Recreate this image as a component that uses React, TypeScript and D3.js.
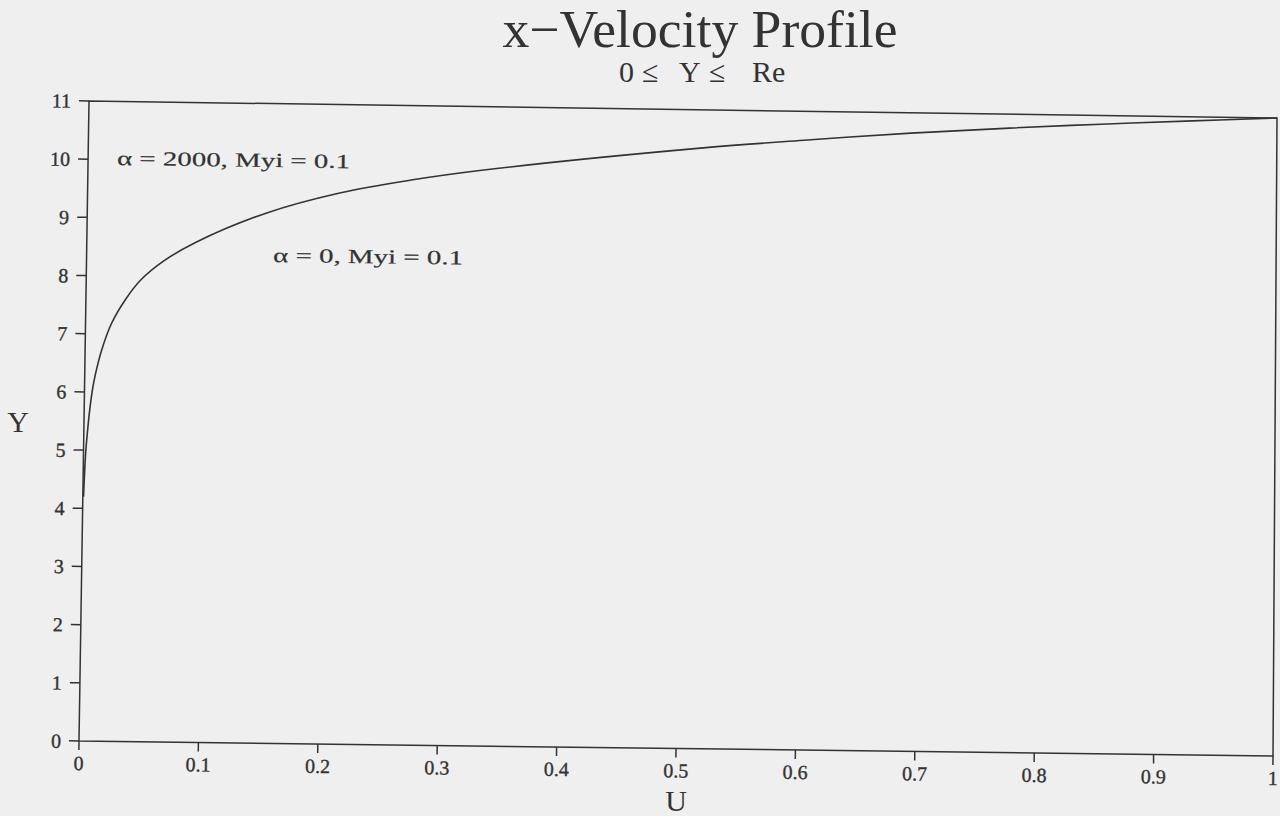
import React from 'react';
import * as d3 from 'd3';

// x-velocity profile: U as a function of Y across the layer
const profileY = [4.2, 4.95, 5.22, 5.64, 6.03, 6.3, 6.73, 7.19, 7.59, 7.94, 8.27, 8.59, 9.12, 9.48, 9.72, 9.91, 10.34, 10.5, 10.65, 10.76, 10.85, 10.93, 11.0];
const profileU = [0.0006, 0.0018, 0.0027, 0.0044, 0.0066, 0.0089, 0.014, 0.022, 0.033, 0.046, 0.065, 0.091, 0.151, 0.212, 0.272, 0.333, 0.515, 0.602, 0.692, 0.775, 0.852, 0.929, 1.0];

const uTickValues = [0, 0.1, 0.2, 0.3, 0.4, 0.5, 0.6, 0.7, 0.8, 0.9, 1];
const uTickLabels = ['0', '0.1', '0.2', '0.3', '0.4', '0.5', '0.6', '0.7', '0.8', '0.9', '1'];
const yTickValues = [0, 1, 2, 3, 4, 5, 6, 7, 8, 9, 10, 11];
const yTickLabels = ['0', '1', '2', '3', '4', '5', '6', '7', '8', '9', '10', '11'];

const annotations = [
  { text: 'α = 2000,  Myi = 0.1', x: 117, y: 165, len: 233 },
  { text: 'α = 0,  Myi = 0.1', x: 273, y: 262, len: 190 },
];

// Subtitle pieces with their horizontal offsets from the title centre
const subtitleParts = ['0', '≤', 'Y', '≤', 'Re'];
const subtitleOffsets = [-81, -58, -21, 9, 52];

const W = 1280;
const H = 816;
const BG = '#efefef';
const INK = '#333';
const FONT = '"Liberation Serif", "Times New Roman", serif';

// Page corners of the plot frame (the sheet sits slightly askew)
const BL: [number, number] = [79, 741];
const BR: [number, number] = [1273, 756];
const TL: [number, number] = [89, 101];
const TR: [number, number] = [1277, 118];

function warp(s: number, t: number): [number, number] {
  const a = (1 - s) * (1 - t);
  const b = s * (1 - t);
  const c = (1 - s) * t;
  const d = s * t;
  return [
    a * BL[0] + b * BR[0] + c * TL[0] + d * TR[0],
    a * BL[1] + b * BR[1] + c * TL[1] + d * TR[1],
  ];
}

function norm(v: [number, number]): [number, number] {
  const l = Math.hypot(v[0], v[1]);
  return [v[0] / l, v[1] / l];
}

// Unit direction along increasing U at height fraction t
function dirS(t: number): [number, number] {
  return norm([
    (1 - t) * (BR[0] - BL[0]) + t * (TR[0] - TL[0]),
    (1 - t) * (BR[1] - BL[1]) + t * (TR[1] - TL[1]),
  ]);
}
// Unit direction along increasing Y at width fraction s
function dirT(s: number): [number, number] {
  return norm([
    (1 - s) * (TL[0] - BL[0]) + s * (TR[0] - BR[0]),
    (1 - s) * (TL[1] - BL[1]) + s * (TR[1] - BR[1]),
  ]);
}

const xScale = d3.scaleLinear().domain([0, 1]).range([0, 1]);
const yScale = d3.scaleLinear().domain([0, 11]).range([0, 1]);
const P = (u: number, v: number) => warp(xScale(u), yScale(v));

const tilt = (Math.atan2(dirS(0.5)[1], dirS(0.5)[0]) * 180) / Math.PI;

export default function App() {
  const pts: [number, number][] = profileU.map((u, i) => P(u, profileY[i]));
  const line = d3
    .line<[number, number]>()
    .x((d) => d[0])
    .y((d) => d[1])
    .curve(d3.curveCatmullRom.alpha(0.5));

  const c00 = P(0, 0);
  const c10 = P(1, 0);
  const c11 = P(1, 11);
  const c01 = P(0, 11);
  const framePath = `M${c01[0]},${c01[1]}L${c00[0]},${c00[1]}L${c10[0]},${c10[1]}L${c11[0]},${c11[1]}Z`;

  const uLabelPos = P(0.5, 0);
  const yLabelPos = P(0, 5.5);
  const titleX = 700;

  return (
    <svg
      width={W}
      height={H}
      viewBox={`0 0 ${W} ${H}`}
      style={{ position: 'absolute', left: 0, top: 0, background: BG }}
    >
      <rect x={0} y={0} width={W} height={H} fill={BG} />

      {/* Title */}
      <text x={titleX} y={47} textAnchor="middle" fontFamily={FONT} fontSize={52} fill={INK}
        textLength={395} lengthAdjust="spacingAndGlyphs">
        x−Velocity Profile
      </text>
      <text y={82} fontFamily={FONT} fontSize={30} fill={INK}>
        {subtitleParts.map((s, i) => (
          <tspan key={`s${i}`} x={titleX + subtitleOffsets[i]}>{s}</tspan>
        ))}
      </text>

      {/* Frame */}
      <path d={framePath} fill="none" stroke={INK} strokeWidth={1.5} />

      {/* Y ticks */}
      {yTickValues.map((v, i) => {
        const p = P(0, v);
        const d = dirS(yScale(v));
        const q: [number, number] = [p[0] - 10 * d[0], p[1] - 10 * d[1]];
        const l: [number, number] = [p[0] - 18 * d[0], p[1] - 18 * d[1]];
        return (
          <g key={`y${i}`}>
            <line x1={p[0]} y1={p[1]} x2={q[0]} y2={q[1]} stroke={INK} strokeWidth={1.5} />
            <text x={l[0]} y={l[1]} textAnchor="end" dominantBaseline="central"
              fontFamily={FONT} fontSize={20} fill={INK} stroke={INK} strokeWidth={0.35}
              transform={`rotate(${tilt},${l[0]},${l[1]})`}>
              {yTickLabels[i]}
            </text>
          </g>
        );
      })}

      {/* U ticks */}
      {uTickValues.map((u, i) => {
        const p = P(u, 0);
        const d = dirT(xScale(u));
        const q: [number, number] = [p[0] - 9 * d[0], p[1] - 9 * d[1]];
        const l: [number, number] = [p[0] - 22 * d[0], p[1] - 22 * d[1]];
        return (
          <g key={`u${i}`}>
            <line x1={p[0]} y1={p[1]} x2={q[0]} y2={q[1]} stroke={INK} strokeWidth={1.5} />
            <text x={l[0]} y={l[1]} textAnchor="middle" dominantBaseline="central"
              fontFamily={FONT} fontSize={20} fill={INK} stroke={INK} strokeWidth={0.35}
              transform={`rotate(${tilt},${l[0]},${l[1]})`}>
              {uTickLabels[i]}
            </text>
          </g>
        );
      })}

      {/* Axis titles */}
      <text x={uLabelPos[0]} y={uLabelPos[1] + 52} textAnchor="middle" dominantBaseline="central"
        fontFamily={FONT} fontSize={30} fill={INK}>
        U
      </text>
      <text x={yLabelPos[0] - 66} y={yLabelPos[1]} textAnchor="middle" dominantBaseline="central"
        fontFamily={FONT} fontSize={30} fill={INK}>
        Y
      </text>

      {/* Profile curve */}
      <path d={line(pts) || ''} fill="none" stroke={INK} strokeWidth={1.6} />

      {/* Case labels */}
      {annotations.map((a, i) => (
        <text key={`a${i}`} x={a.x} y={a.y} fontFamily={FONT} fontSize={20} fill={INK}
          stroke={INK} strokeWidth={0.2}
          textLength={a.len} lengthAdjust="spacingAndGlyphs"
          transform={`rotate(${tilt},${a.x},${a.y})`}>
          {a.text}
        </text>
      ))}
    </svg>
  );
}
